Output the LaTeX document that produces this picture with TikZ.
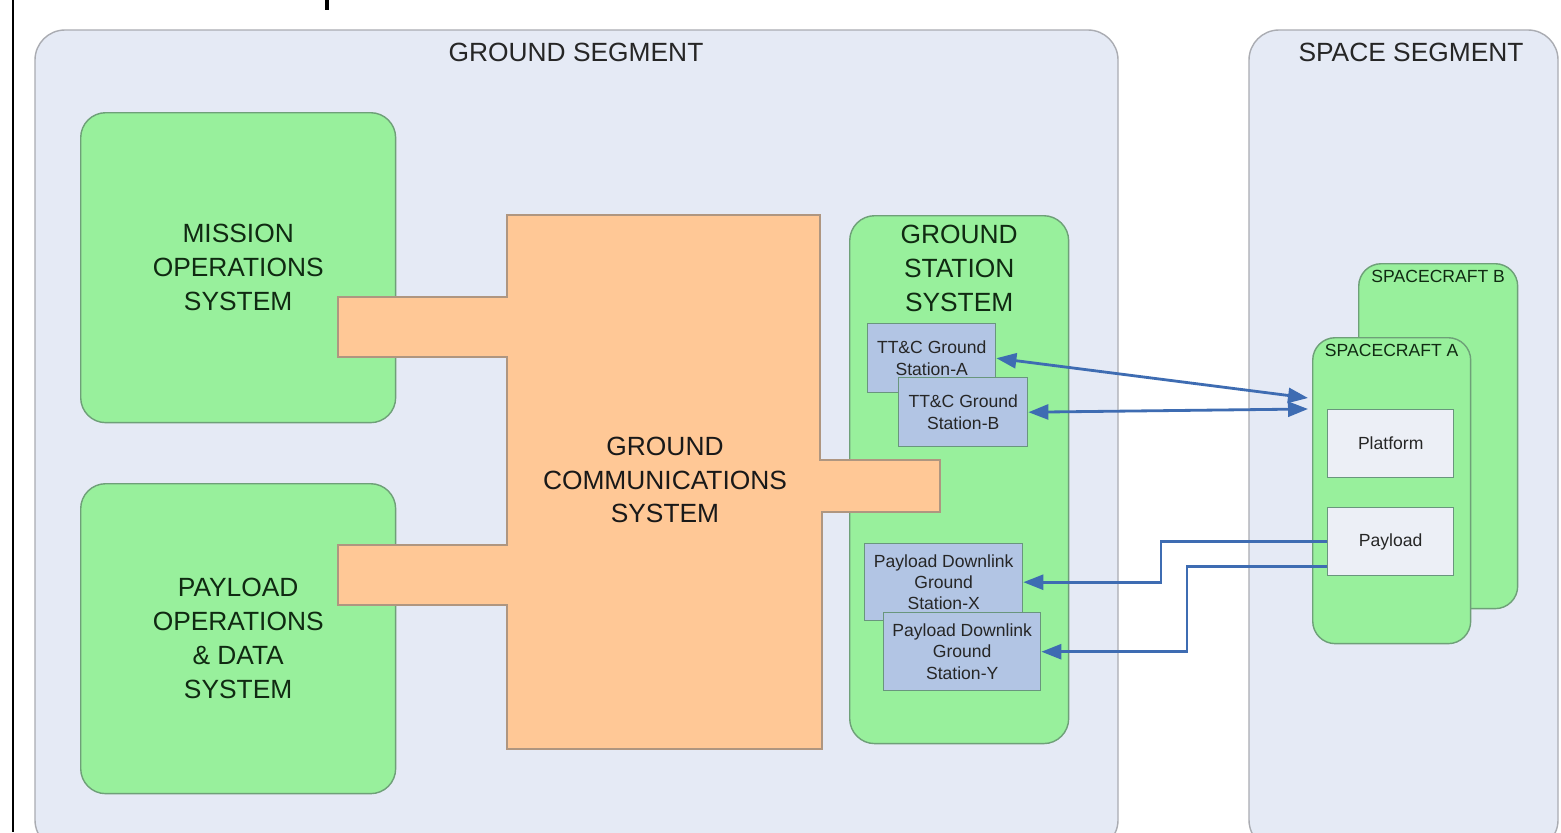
\documentclass[tikz,border=0pt]{standalone}
\usepackage{fontspec}
\setmainfont{Liberation Sans}
\usetikzlibrary{arrows.meta}
\definecolor{panelfill}{RGB}{229,234,245}
\definecolor{panelline}{RGB}{170,172,178}
\definecolor{sysgreen}{RGB}{152,240,156}
\definecolor{sysline}{RGB}{110,160,120}
\definecolor{systext}{RGB}{16,42,18}
\definecolor{gcsfill}{RGB}{255,200,150}
\definecolor{gcsline}{RGB}{175,150,128}
\definecolor{stafill}{RGB}{178,197,228}
\definecolor{staline}{RGB}{105,150,125}
\definecolor{partfill}{RGB}{236,239,246}
\definecolor{linkblue}{RGB}{62,108,178}
\newcommand\biglabel{\fontsize{15}{19.3}\selectfont}
\newcommand\smalllabel{\fontsize{10}{12}\selectfont}
\begin{document}
\begin{tikzpicture}[x=0.02cm,y=-0.02cm,
	>={Triangle[length=0.4cm,width=0.3cm]},
	panel/.style={fill=panelfill,draw=panelline,line width=0.8pt,rounded corners=0.6cm},
	sysbox/.style={fill=sysgreen,draw=sysline,line width=0.8pt,rounded corners=0.5cm,anchor=north west,inner sep=0pt,align=center,text=systext,font=\biglabel},
	craft/.style={sysbox,rounded corners=0.45cm},
	stabox/.style={fill=stafill,draw=staline,line width=0.8pt,anchor=north west,inner sep=0pt,align=center,text=black!85,font=\smalllabel},
	partbox/.style={stabox,fill=partfill},
	link/.style={draw=linkblue,line width=1.6pt}]
	\useasboundingbox (0,0) rectangle (1561,832);
	\fill[white] (0,0) rectangle (1561,832);
	\draw[line width=0.04cm] (13,0) -- (13,832);
	\draw[line width=0.08cm] (327,0) -- (327,10);

	% segments
	\filldraw[panel] (35,30) rectangle (1118,850);
	\filldraw[panel] (1249,30) rectangle (1558,850);
	\node[text=black!85,font=\biglabel] (gstitle) at (576,52) {GROUND SEGMENT};
	\node[text=black!85,font=\biglabel] (sstitle) at (1411,52) {SPACE SEGMENT};

	% ground systems
	\node[sysbox,minimum width=6.3cm,minimum height=6.2cm] (mos) at (80,112) {MISSION\\OPERATIONS\\SYSTEM};
	\node[sysbox,minimum width=6.3cm,minimum height=6.2cm] (pods) at (80,483) {PAYLOAD\\OPERATIONS\\\& DATA\\SYSTEM};
	\node[sysbox,minimum width=4.38cm,minimum height=10.56cm] (gss) at (849,215) {};
	\node[anchor=north,align=center,text=systext,font=\biglabel] (gsstitle) at ([yshift=-0.08cm]gss.north) {GROUND\\STATION\\SYSTEM};

	% communications system
	\filldraw[fill=gcsfill,draw=gcsline,line width=0.8pt] (507,215) -- (820,215) -- (820,460) -- (940,460) -- (940,512) -- (822,512) -- (822,749) -- (507,749) -- (507,605) -- (338,605) -- (338,545) -- (507,545) -- (507,357) -- (338,357) -- (338,297) -- (507,297) -- cycle;
	\node[align=center,text=black!90,font=\biglabel] (gcs) at (665,480) {GROUND\\COMMUNICATIONS\\SYSTEM};

	% ground stations
	\node[stabox,minimum width=2.56cm,minimum height=1.38cm] (tta) at (867,323) {TT\&C Ground\\Station-A};
	\node[stabox,minimum width=2.58cm,minimum height=1.38cm] (ttb) at (898,377) {TT\&C Ground\\Station-B};
	\node[stabox,minimum width=3.16cm,minimum height=1.54cm] (pdx) at (864,543) {Payload Downlink\\Ground\\Station-X};
	\node[stabox,minimum width=3.14cm,minimum height=1.56cm] (pdy) at (883,612) {Payload Downlink\\Ground\\Station-Y};

	% spacecraft
	\node[craft,minimum width=3.18cm,minimum height=6.9cm] (scb) at (1358,263) {};
	\node[anchor=north,text=systext,font=\smalllabel] (scbtitle) at ([yshift=-0.02cm]scb.north) {SPACECRAFT B};
	\node[craft,minimum width=3.16cm,minimum height=6.12cm] (sca) at (1312,337) {};
	\node[anchor=north,text=systext,font=\smalllabel] (scatitle) at ([yshift=-0.02cm]sca.north) {SPACECRAFT A};
	\node[partbox,minimum width=2.52cm,minimum height=1.36cm] (plat) at (1327,409) {Platform};
	\node[partbox,minimum width=2.52cm,minimum height=1.36cm] (pay) at (1327,507) {Payload};

	% links
	\draw[link,<->] (tta.east) -- ([xshift=-0.08cm,yshift=-1.22cm]sca.north west);
	\draw[link,<->] (ttb.east) -- ([xshift=-0.08cm,yshift=-1.44cm]sca.north west);
	\draw[link,->] (pay.west) -- ++(-166,0) |- (pdx.east);
	\draw[link,->] ([yshift=-0.5cm]pay.west) -- ++(-140,0) |- (pdy.east);
\end{tikzpicture}
\end{document}
